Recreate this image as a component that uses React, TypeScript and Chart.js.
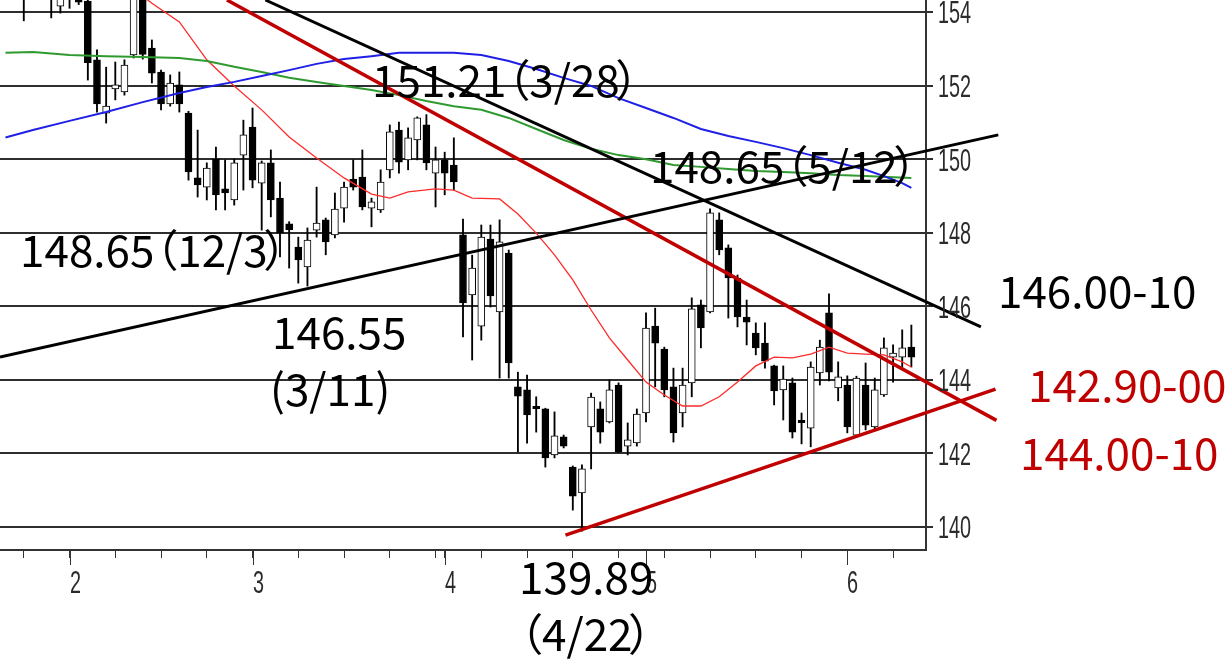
import React, { useEffect, useRef } from 'react';
import { Chart, registerables } from 'chart.js';

Chart.register(...registerables);

// ---- Data (USD/JPY daily) ----
const dates = [
  '1/23','1/24','1/27','1/28','1/29','1/30','1/31',
  '2/3','2/4','2/5','2/6','2/7','2/10','2/11','2/12','2/13','2/14','2/17','2/18','2/19','2/20','2/21','2/24','2/25','2/26','2/27','2/28',
  '3/3','3/4','3/5','3/6','3/7','3/10','3/11','3/12','3/13','3/14','3/17','3/18','3/19','3/20','3/21','3/24','3/25','3/26','3/27','3/28','3/31',
  '4/1','4/2','4/3','4/4','4/7','4/8','4/9','4/10','4/11','4/14','4/15','4/16','4/17','4/18','4/21','4/22','4/23','4/24','4/25','4/28','4/29','4/30',
  '5/1','5/2','5/5','5/6','5/7','5/8','5/9','5/12','5/13','5/14','5/15','5/16','5/19','5/20','5/21','5/22','5/23','5/26','5/27','5/28','5/29','5/30',
  '6/2','6/3','6/4','6/5','6/6','6/9','6/10','6/11',
];
const opens = [
  156.5,156.1,155.9,154.6,155.6,155.3,154.16,
  155.0,154.75,154.3,152.7,151.25,151.91,151.83,152.83,154.4,153.02,152.37,151.5,152.02,151.25,149.49,149.24,150.0,149.19,148.89,150.11,
  150.87,149.35,149.9,148.94,148.24,147.61,147.07,148.07,148.35,147.94,148.67,149.46,149.51,148.67,148.62,149.71,150.79,149.98,150.52,150.93,149.62,
  149.98,149.84,147.94,146.31,145.46,147.83,145.85,147.45,143.81,143.73,143.28,143.21,141.96,142.45,141.63,140.93,142.72,143.21,142.86,143.86,142.2,142.29,
  143.1,145.46,144.84,143.81,143.1,143.92,146.04,145.85,148.35,147.59,146.77,145.71,145.27,145.0,144.38,143.73,143.92,142.9,142.69,144.19,145.82,143.78,
  143.86,142.5,143.86,142.72,143.59,144.62,144.62,144.89,
];
const highs = [
  156.7,156.8,156.2,155.9,155.8,155.4,155.9,
  155.9,155.0,154.4,152.97,152.5,152.64,152.7,154.8,154.8,153.24,152.42,152.29,152.37,151.3,150.79,149.9,150.33,149.98,150.0,151.06,
  151.39,149.95,150.25,149.38,148.3,147.88,148.13,149.24,148.4,149.08,149.38,149.98,150.25,148.94,149.71,150.93,151.01,150.85,151.15,151.21,150.33,
  150.19,150.58,148.37,147.39,148.21,148.21,148.35,147.53,144.21,144.13,143.54,143.23,143.13,142.5,141.66,141.69,143.64,143.4,144.0,143.92,142.83,143.21,
  145.82,145.95,144.89,144.32,144.32,146.23,146.17,148.65,148.54,147.67,146.85,146.17,145.55,145.55,144.4,144.38,144.05,143.1,144.49,145.08,146.34,144.49,
  144.11,144.1,144.46,144.05,145.14,144.95,145.36,145.49,
];
const lows = [
  155.8,155.0,153.76,154.5,154.9,153.84,153.97,
  154.1,154.2,152.15,151.28,150.98,151.61,151.74,152.75,152.72,152.07,151.34,151.44,151.28,149.43,148.97,148.89,148.62,148.62,148.75,149.16,
  149.22,148.07,148.43,147.34,147.04,146.63,146.55,147.88,147.4,147.86,148.29,149.16,148.62,148.16,148.55,149.49,149.62,149.71,149.98,149.71,148.7,
  149.03,149.16,145.17,144.54,145.08,145.98,144.05,144.05,142.04,142.28,142.58,141.63,141.88,142.15,140.46,139.89,141.58,142.28,142.83,142.02,141.96,142.2,
  142.86,143.81,143.54,142.31,142.72,143.54,144.87,145.82,147.4,145.68,145.44,144.95,144.68,144.32,143.32,142.91,142.42,142.26,142.18,143.86,143.97,143.43,
  142.56,142.45,142.64,142.64,143.55,143.94,144.35,144.35,
];
const closes = [
  156.0,155.9,154.6,155.6,155.3,154.4,155.2,
  154.6,154.27,152.62,151.5,151.44,152.02,152.56,154.45,152.85,152.34,151.5,152.07,151.5,149.65,149.3,149.76,149.03,149.08,149.9,150.66,
  149.43,149.9,148.89,147.99,148.08,147.26,147.8,148.26,147.75,148.64,149.24,149.24,148.7,148.84,149.38,150.74,149.92,150.58,151.12,149.9,149.98,
  149.62,149.38,146.09,147.04,147.88,146.28,147.75,144.46,143.56,143.05,143.22,141.88,142.48,142.2,140.84,141.58,143.53,142.58,143.73,142.04,142.37,143.07,
  145.41,145.0,143.73,142.56,143.86,145.93,145.41,148.54,147.53,146.77,145.71,145.57,144.87,144.51,143.7,144.02,142.58,142.84,144.35,144.89,144.21,144.08,
  142.72,144.05,142.77,143.73,144.87,144.73,144.87,144.62,
];

// Moving averages at sample dates
const maShortDates = ['2/10','2/14','2/19','2/24','2/27','3/4','3/7','3/12','3/17','3/20','3/24','3/26','3/31','4/2','4/4','4/9','4/11','4/15','4/17','4/21','4/23','4/25','4/29','5/1','5/5','5/7','5/9','5/13','5/15','5/19','5/21','5/23','5/27','5/29','6/2','6/4','6/6','6/10','6/11'];
const maShortValues = [154.98,154.24,153.73,152.70,151.99,151.34,150.60,150.03,149.49,149.05,148.94,149.11,149.19,149.16,148.94,148.92,148.51,147.99,147.40,146.72,145.90,145.14,144.54,143.94,143.59,143.29,143.29,143.54,143.94,144.38,144.62,144.60,144.70,144.89,144.73,144.70,144.68,144.49,144.35];
const maMidDates = ['1/23','1/28','2/3','2/7','2/13','2/19','2/24','2/27','3/4','3/7','3/12','3/17','3/20','3/25','3/28','4/2','4/7','4/10','4/15','4/18','4/23','4/28','5/1','5/6','5/9','5/14','5/19','5/22','5/27','5/30','6/4','6/11'];
const maMidValues = [152.89,152.91,152.83,152.80,152.78,152.75,152.67,152.51,152.37,152.21,152.10,151.99,151.88,151.74,151.58,151.44,151.34,151.12,150.82,150.52,150.28,150.11,150.00,149.84,149.79,149.73,149.68,149.65,149.62,149.57,149.54,149.49];
const maLongDates = ['1/23','1/28','2/3','2/7','2/13','2/19','2/24','2/27','3/4','3/7','3/12','3/17','3/20','3/25','3/28','4/2','4/7','4/10','4/15','4/18','4/23','4/28','5/1','5/6','5/9','5/14','5/19','5/22','5/27','5/30','6/4','6/6','6/10','6/11'];
const maLongValues = [150.59,150.79,151.04,151.28,151.55,151.80,151.96,152.10,152.26,152.42,152.59,152.72,152.80,152.89,152.89,152.89,152.83,152.67,152.45,152.21,151.99,151.66,151.39,151.12,150.82,150.63,150.47,150.30,150.11,149.90,149.71,149.54,149.35,149.22];

// Trend lines (x in trading-day index, y in price)
const blackUpX = [-0.6, 108.5];
const blackUpY = [144.62, 150.66];
const blackDownX = [28.4, 106.6];
const blackDownY = [154.326, 145.44];
const redDownX = [24.2, 108.3];
const redDownY = [154.326, 142.90];
const redUpX = [61.2, 108.2];
const redUpY = [139.78, 143.75];

// Axis ticks
const weekTickDates = ['1/27','2/3','2/10','2/17','2/24','3/3','3/10','3/17','3/24','3/31','4/1','4/7','4/14','4/21','4/28','5/1','5/5','5/12','5/19','5/26','6/2','6/9'];
const monthTickDates = ['2/3','3/3','4/1','5/1','6/2'];
const monthLabels = ['2','3','4','5','6'];
const yTicks = [140, 142, 144, 146, 148, 150, 152, 154];

// Annotations (x index, y price)
const noteTexts = ['151.21（3/28）','148.65（5/12）','148.65（12/3）','146.55','(3/11)','139.89','（4/22）','146.00-10','142.90-00','144.00-10'];
const noteX = [40.06, 70.44, 1.59, 29.13, 28.91, 56.13, 56.13, 108.47, 111.75, 110.88];
const noteY = [151.69, 149.353, 147.067, 144.84, 143.291, 138.181, 136.632, 145.957, 143.402, 141.553];
const noteRed = [false, false, false, false, false, false, false, false, true, true];

const X_MIN = -0.6;
const X_MAX = 100.6;
const Y_MIN = 139.376;
const Y_MAX = 154.326;

const AXIS_FONT = '"Liberation Sans", Arial, sans-serif';
const AXIS_SIZE = 32;
const AXIS_SQUEEZE = 0.62;
const NOTE_FONT = '"Noto Sans CJK JP", "Noto Sans", sans-serif';
const NOTE_SIZE = 44;
const DARK_RED = '#c00000';
const AXIS_TEXT = '#2b2b2b';

const idx = (d: string) => dates.indexOf(d);
const weekTickIdx = weekTickDates.map(idx);
const monthTickIdx = monthTickDates.map(idx);

function arrowRotation(ctx: any) {
  const chart = ctx.chart;
  const data = ctx.dataset.data;
  const xs = chart.scales.x;
  const ys = chart.scales.y;
  if (!xs || !ys || data.length < 2) return 0;
  const x0 = xs.getPixelForValue(data[0].x);
  const y0 = ys.getPixelForValue(data[0].y);
  const x1 = xs.getPixelForValue(data[1].x);
  const y1 = ys.getPixelForValue(data[1].y);
  return (Math.atan2(x1 - x0, -(y1 - y0)) * 180) / Math.PI;
}

function trendDataset(xs: number[], ys: number[], color: string, width: number) {
  return {
    type: 'line' as const,
    data: xs.map((x, k) => ({ x, y: ys[k] })),
    borderColor: color,
    borderWidth: width,
    pointRadius: (c: any) => (c.dataIndex === 1 ? 11 : 0),
    pointStyle: 'triangle',
    pointRotation: arrowRotation,
    pointBackgroundColor: color,
    pointBorderColor: color,
    pointBorderWidth: 1,
    clip: false as any,
    tension: 0,
    order: 1,
  };
}

function maDataset(ds: string[], vs: number[], color: string, width: number) {
  return {
    type: 'line' as const,
    data: ds.map((d, k) => ({ x: idx(d), y: vs[k] })),
    borderColor: color,
    borderWidth: width,
    pointRadius: 0,
    tension: 0,
    order: 2,
  };
}

function drawNote(ctx: CanvasRenderingContext2D, text: string, x: number, y: number, size: number) {
  let pen = x;
  for (const seg of text.split(/([（）])/)) {
    if (!seg) continue;
    if (seg === '（') {
      ctx.fillText(seg, pen - 0.45 * size, y);
      pen += 0.52 * size;
    } else if (seg === '）') {
      ctx.fillText(seg, pen - 0.1 * size, y);
      pen += 0.5 * size;
    } else {
      ctx.fillText(seg, pen, y);
      pen += ctx.measureText(seg).width;
    }
  }
}

function drawSqueezed(ctx: CanvasRenderingContext2D, text: string, x: number, y: number) {
  ctx.save();
  ctx.translate(x, y);
  ctx.scale(AXIS_SQUEEZE, 1);
  ctx.fillText(text, 0, 0);
  ctx.restore();
}

const notesPlugin = {
  id: 'notes',
  afterDraw(chart: any) {
    const { ctx, scales, chartArea } = chart;
    const xs = scales.x;
    const ys = scales.y;
    ctx.save();
    // longer month tick marks
    ctx.strokeStyle = '#333';
    ctx.lineWidth = 1;
    for (const v of monthTickIdx) {
      const px = Math.round(xs.getPixelForValue(v)) + 0.5;
      ctx.beginPath();
      ctx.moveTo(px, chartArea.bottom);
      ctx.lineTo(px, chartArea.bottom + 15);
      ctx.stroke();
    }
    // axis labels (tall, condensed)
    ctx.font = `${AXIS_SIZE}px ${AXIS_FONT}`;
    ctx.fillStyle = AXIS_TEXT;
    ctx.textAlign = 'left';
    ctx.textBaseline = 'alphabetic';
    const cap = AXIS_SIZE * 0.716;
    yTicks.forEach((v) => {
      drawSqueezed(ctx, String(v), chartArea.right + 12, ys.getPixelForValue(v) + cap / 2);
    });
    monthTickIdx.forEach((v, k) => {
      drawSqueezed(ctx, monthLabels[k], Math.round(xs.getPixelForValue(v)), chartArea.bottom + 43);
    });
    // annotations
    ctx.font = `${NOTE_SIZE}px ${NOTE_FONT}`;
    noteTexts.forEach((t, k) => {
      ctx.fillStyle = noteRed[k] ? DARK_RED : '#000';
      drawNote(ctx, t, xs.getPixelForValue(noteX[k]), ys.getPixelForValue(noteY[k]), NOTE_SIZE);
    });
    ctx.restore();
  },
};

export default function App() {
  const ref = useRef<HTMLCanvasElement | null>(null);

  useEffect(() => {
    document.body.style.margin = '0';
    document.body.style.background = '#fff';
    const canvas = ref.current;
    if (!canvas) return;

    const wickData = dates.map((_, i) => ({ x: i, y: [lows[i], highs[i]] }));
    const bodyData = dates.map((_, i) => ({ x: i, y: [opens[i], closes[i]] }));
    const bodyColors = dates.map((_, i) => (closes[i] >= opens[i] ? '#ffffff' : '#000000'));

    const chart = new Chart(canvas, {
      type: 'bar',
      data: {
        datasets: [
          {
            type: 'bar',
            data: wickData as any,
            backgroundColor: '#000',
            borderWidth: 0,
            barThickness: 1.2,
            grouped: false,
            order: 4,
          } as any,
          {
            type: 'bar',
            data: bodyData as any,
            backgroundColor: bodyColors,
            borderColor: '#000',
            borderWidth: 1,
            borderSkipped: false,
            barThickness: 7,
            minBarLength: 2,
            grouped: false,
            order: 3,
          } as any,
          maDataset(maLongDates, maLongValues, '#1f1fe6', 2) as any,
          maDataset(maMidDates, maMidValues, '#2f9a2f', 2) as any,
          maDataset(maShortDates, maShortValues, '#ff2a2a', 1.3) as any,
          trendDataset(blackUpX, blackUpY, '#000', 3) as any,
          trendDataset(blackDownX, blackDownY, '#000', 3) as any,
          trendDataset(redDownX, redDownY, DARK_RED, 3.5) as any,
          trendDataset(redUpX, redUpY, DARK_RED, 3.5) as any,
        ],
      },
      options: {
        responsive: false,
        animation: false,
        devicePixelRatio: 1,
        layout: { padding: 0, autoPadding: false },
        plugins: { legend: { display: false }, tooltip: { enabled: false } },
        scales: {
          x: {
            type: 'linear',
            min: X_MIN,
            max: X_MAX,
            offset: false,
            bounds: 'data',
            grid: { offset: false, drawOnChartArea: false, drawTicks: true, tickLength: 8, color: '#333', lineWidth: 1 },
            border: { display: true, color: '#333', width: 2 },
            ticks: { display: false, autoSkip: false, maxRotation: 0, minRotation: 0 },
            afterBuildTicks: (s: any) => {
              s.ticks = weekTickIdx.map((v) => ({ value: v }));
            },
            afterFit: (s: any) => {
              s.height = 110;
              s.paddingLeft = 0;
              s.paddingRight = 0;
            },
          } as any,
          y: {
            type: 'linear',
            position: 'right',
            min: Y_MIN,
            max: Y_MAX,
            bounds: 'data',
            beginAtZero: false,
            grid: { color: '#2e2e2e', lineWidth: 2, tickLength: 7 },
            border: { display: true, color: '#333', width: 2 },
            ticks: { display: false },
            afterBuildTicks: (s: any) => {
              s.ticks = yTicks.map((v) => ({ value: v }));
            },
            afterFit: (s: any) => {
              s.width = 300;
              s.paddingTop = 0;
              s.paddingBottom = 0;
            },
          } as any,
        },
      },
      plugins: [notesPlugin],
    });

    return () => chart.destroy();
  }, []);

  return (
    <div style={{ width: 1226, height: 660, background: '#fff' }}>
      <canvas ref={ref} width={1226} height={660} style={{ display: 'block' }} />
    </div>
  );
}
